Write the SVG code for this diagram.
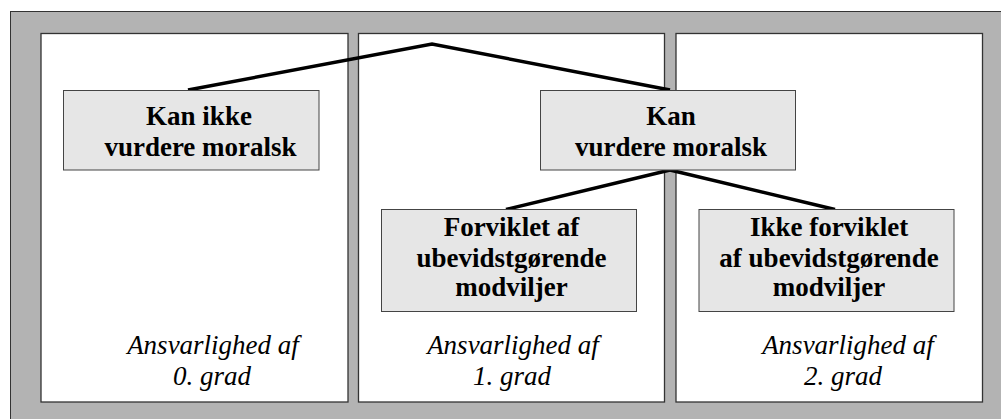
<svg xmlns="http://www.w3.org/2000/svg" width="1001" height="419" viewBox="0 0 1001 419">
<style>
.bg{fill:#b3b3b3;stroke:#333;stroke-width:1}
.panel{fill:#fff;stroke:#333;stroke-width:1.3}
.node{fill:#e6e6e6;stroke:#444;stroke-width:1}
.lbl{font-weight:bold;font-size:27px;fill:#000;text-anchor:middle}
.note{font-style:italic;font-size:27px;fill:#000;text-anchor:middle}
.conn{stroke:#000;stroke-width:3.5;fill:none;stroke-linejoin:miter}
</style>
<rect class="bg" x="10.5" y="11.5" width="1000" height="420"/>
<g font-family="Liberation Serif, Times New Roman, Nimbus Roman, FreeSerif, DejaVu Serif, serif">
<g id="panel0"><rect class="panel" x="41" y="33.5" width="307" height="368.5"/>
<text class="note" x="213" y="353.5">Ansvarlighed af</text>
<text class="note" x="212" y="384.5">0. grad</text></g>
<g id="panel1"><rect class="panel" x="358.5" y="33.5" width="306" height="368.5"/>
<text class="note" x="513" y="353.5">Ansvarlighed af</text>
<text class="note" x="512" y="384.5">1. grad</text></g>
<g id="panel2"><rect class="panel" x="676" y="33.5" width="306.5" height="368.5"/>
<text class="note" x="848" y="353.5">Ansvarlighed af</text>
<text class="note" x="843" y="384.5">2. grad</text></g>
<g id="connectors">
<polyline class="conn" points="188,90 432,44 670,90"/>
<line class="conn" x1="670" y1="170" x2="506" y2="209.5"/>
<line class="conn" x1="670" y1="170" x2="835" y2="209.5"/>
</g>
<g id="node-kan-ikke"><rect class="node" x="63.5" y="90.5" width="255.5" height="79.5"/>
<text class="lbl" x="199" y="125">Kan ikke</text>
<text class="lbl" x="200.5" y="156">vurdere moralsk</text></g>
<g id="node-kan"><rect class="node" x="540.5" y="90.5" width="255" height="79.5"/>
<text class="lbl" x="671" y="125">Kan</text>
<text class="lbl" x="671" y="156">vurdere moralsk</text></g>
<g id="node-forviklet"><rect class="node" x="381.5" y="209.5" width="255" height="102"/>
<text class="lbl" x="511.5" y="236">Forviklet af</text>
<text class="lbl" x="511.5" y="266.5">ubevidstgørende</text>
<text class="lbl" x="511.5" y="296">modviljer</text></g>
<g id="node-ikke-forviklet"><rect class="node" x="699" y="209.5" width="255" height="102"/>
<text class="lbl" x="829" y="236">Ikke forviklet</text>
<text class="lbl" x="829" y="266.5">af ubevidstgørende</text>
<text class="lbl" x="829" y="296">modviljer</text></g>
</g>
</svg>
